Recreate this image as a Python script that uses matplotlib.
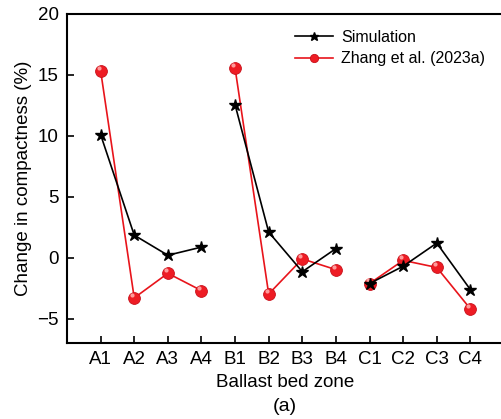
import numpy as np
import matplotlib
matplotlib.use("Agg")
from matplotlib import pyplot as plt

plt.rcParams['font.family'] = ['Liberation Sans', 'DejaVu Sans']
plt.rcParams['font.size'] = 13.5

zones = ["A1", "A2", "A3", "A4", "B1", "B2", "B3", "B4", "C1", "C2", "C3", "C4"]
simulation = [10.1, 1.85, 0.2, 0.87, 12.55, 2.1, -1.15, 0.75, -2.12, -0.7, 1.2, -2.62]
zhang = [15.35, -3.3, -1.28, -2.7, 15.55, -2.98, -0.1, -0.98, -2.12, -0.22, -0.8, -4.2]
groups = [(0, 4), (4, 8), (8, 12)]

fig = plt.figure(figsize=(5.01, 4.19), dpi=100)
ax = fig.add_axes([67 / 501, 1 - 343 / 419, 437 / 501, 329 / 419])

x = np.arange(1, len(zones) + 1)
for i, (a, b) in enumerate(groups):
    ax.plot(x[a:b], simulation[a:b], color='black', lw=1.2, marker='*',
            ms=9, mfc='black', mec='black', zorder=3,
            label='Simulation' if i == 0 else None)
    ax.plot(x[a:b], zhang[a:b], color='#e8141b', lw=1.2, marker='o',
            ms=8.5, mfc='#ee1c24', mec='#c8101a', mew=0.6, zorder=2,
            label='Zhang et al. (2023a)' if i == 0 else None)
    # small highlight on the spheres
    ax.plot(x[a:b] - 0.06, np.array(zhang[a:b]) + 0.25, ls='none', marker='o',
            ms=3, mfc='#ff9a9a', mec='none', zorder=2.5)

ax.set_xlim(0, 13)
ax.set_ylim(-7, 20)
ax.set_xticks(x)
ax.set_xticklabels(zones)
ax.set_yticks([-5, 0, 5, 10, 15, 20])
ax.set_yticklabels(['\u22125', '0', '5', '10', '15', '20'])
ax.tick_params(direction='in', length=5, width=1.2, pad=6)
for s in ax.spines.values():
    s.set_linewidth(1.5)
ax.spines['right'].set_visible(False)

ax.set_xlabel('Ballast bed zone', labelpad=4)
ax.set_ylabel('Change in compactness (%)', labelpad=4)
fig.text(285 / 501, 1 - 406 / 419, '(a)', ha='center', va='center', fontsize=14)

ax.legend(loc='upper left', bbox_to_anchor=(0.488, 0.995), frameon=False,
          handlelength=2.4, handletextpad=0.5, labelspacing=0.4, fontsize=11.5,
          markerscale=0.7)

fig.savefig('out.png', dpi=100)
